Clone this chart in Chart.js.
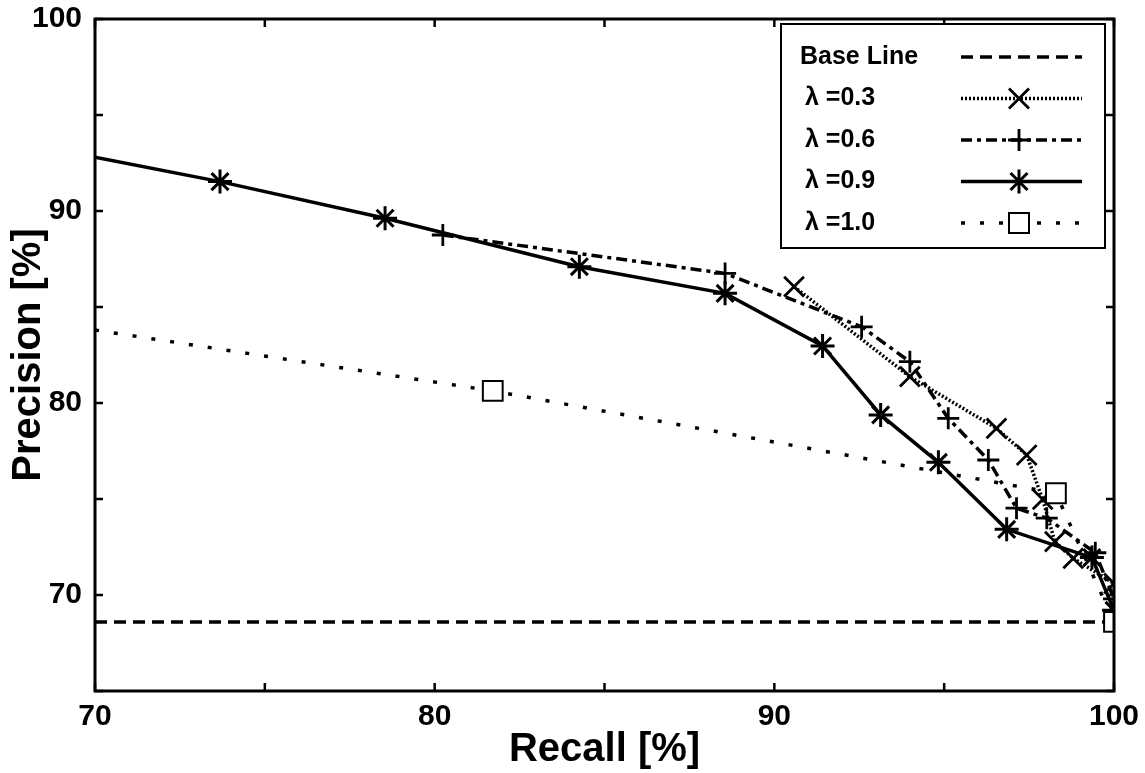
<!DOCTYPE html>
<html>
<head>
<meta charset="utf-8">
<script src="https://cdn.jsdelivr.net/npm/chart.js@4/dist/chart.umd.min.js"></script>
<style>
  body { margin: 0; background: #fff; }
  #wrap { width: 1145px; height: 773px; }
</style>
</head>
<body>
<div id="wrap"><canvas id="prChart" width="1145" height="773"></canvas></div>
<script>
// values (recall %, precision %)
let baseRecall = [70, 100];
let basePrecision = [68.6, 68.6];

let recall03 = [90.58, 93.99, 96.54, 97.43, 97.9, 98.26, 98.8, 100];
let precision03 = [86.06, 81.37, 78.68, 77.29, 74.98, 72.78, 71.91, 70.6];

let recall06 = [80.24, 88.55, 92.57, 93.99, 95.12, 96.3, 97.13, 98.02, 99.45, 100];
let precision06 = [88.75, 86.75, 83.97, 82.15, 79.2, 77.03, 74.52, 74.0, 72.2, 69.8];

let recall09 = [70, 73.68, 78.54, 84.26, 88.55, 91.42, 93.13, 94.83, 96.84, 99.35, 100];
let precision09 = [92.8, 91.53, 89.62, 87.1, 85.71, 82.97, 79.38, 76.91, 73.42, 71.95, 69.2];

let recall10 = [70, 81.71, 98.29, 100];
let precision10 = [83.8, 80.63, 75.3, 68.6];

let seriesNames = ["Base Line", "\u03bb =0.3", "\u03bb =0.6", "\u03bb =0.9", "\u03bb =1.0"];
let xTicks = [70, 80, 90, 100];
let yTicks = [70, 80, 90, 100];

const FONT = "'Liberation Sans', Arial, Helvetica, sans-serif";

function pairUp(xs, ys) {
    return xs.map((x, i) => ({x: x, y: ys[i]}));
}

// first point of a series sits on the left border: no marker there
function hideFirst(r) {
    return ctx => (ctx.dataIndex === 0 ? 0 : r);
}

let datasets = [
    {
        label: seriesNames[0],
        data: pairUp(baseRecall, basePrecision),
        borderColor: "#000",
        borderWidth: 3.5,
        borderDash: [12, 7],
        pointRadius: 0,
        order: 5
    },
    {
        label: seriesNames[1],
        data: pairUp(recall03, precision03),
        borderColor: "#000",
        borderWidth: 3.5,
        borderDash: [2, 2],
        pointStyle: "crossRot",
        pointRadius: 14,
        pointBorderWidth: 2.8,
        pointBorderColor: "#000",
        order: 3
    },
    {
        label: seriesNames[2],
        data: pairUp(recall06, precision06),
        borderColor: "#000",
        borderWidth: 3.5,
        borderDash: [11, 5, 4, 5],
        pointStyle: "cross",
        pointRadius: 11,
        pointBorderWidth: 2.8,
        pointBorderColor: "#000",
        order: 2
    },
    {
        label: seriesNames[3],
        data: pairUp(recall09, precision09),
        borderColor: "#000",
        borderWidth: 3.5,
        pointStyle: "star",
        pointRadius: hideFirst(12),
        pointBorderWidth: 3,
        pointBorderColor: "#000",
        order: 1
    },
    {
        label: seriesNames[4],
        data: pairUp(recall10, precision10),
        borderColor: "#000",
        borderWidth: 3.5,
        borderDash: [4, 15],
        pointStyle: "rect",
        pointRadius: hideFirst(14),
        pointBorderWidth: 2,
        pointBorderColor: "#000",
        pointBackgroundColor: "#fff",
        order: 0
    }
];

// marker for legend samples
function drawMarker(ctx, style, x, y) {
    ctx.save();
    ctx.setLineDash([]);
    ctx.strokeStyle = "#000";
    ctx.lineWidth = 2.8;
    ctx.beginPath();
    if (style === "crossRot") {
        let d = 10;
        ctx.moveTo(x - d, y - d); ctx.lineTo(x + d, y + d);
        ctx.moveTo(x - d, y + d); ctx.lineTo(x + d, y - d);
        ctx.stroke();
    } else if (style === "cross") {
        ctx.moveTo(x - 11, y); ctx.lineTo(x + 11, y);
        ctx.moveTo(x, y - 11); ctx.lineTo(x, y + 11);
        ctx.stroke();
    } else if (style === "star") {
        let d = 8.5;
        ctx.lineWidth = 3;
        ctx.moveTo(x - 12, y); ctx.lineTo(x + 12, y);
        ctx.moveTo(x, y - 12); ctx.lineTo(x, y + 12);
        ctx.moveTo(x - d, y - d); ctx.lineTo(x + d, y + d);
        ctx.moveTo(x - d, y + d); ctx.lineTo(x + d, y - d);
        ctx.stroke();
    } else if (style === "rect") {
        ctx.lineWidth = 2;
        ctx.fillStyle = "#fff";
        ctx.fillRect(x - 10, y - 10, 20, 20);
        ctx.strokeRect(x - 10, y - 10, 20, 20);
    }
    ctx.restore();
}

const framePlugin = {
    id: "frame",
    afterDraw(chart) {
        let ctx = chart.ctx;
        let area = chart.chartArea;
        let xs = chart.scales.x;
        let ys = chart.scales.y;

        ctx.save();
        ctx.strokeStyle = "#000";
        ctx.setLineDash([]);

        // inward ticks on all four sides
        ctx.lineWidth = 2.5;
        ctx.beginPath();
        for (let v = 70; v <= 100; v += 5) {
            let px = xs.getPixelForValue(v);
            ctx.moveTo(px, area.bottom); ctx.lineTo(px, area.bottom - 8);
            ctx.moveTo(px, area.top); ctx.lineTo(px, area.top + 8);
        }
        for (let v = 65; v <= 100; v += 5) {
            let py = ys.getPixelForValue(v);
            ctx.moveTo(area.left, py); ctx.lineTo(area.left + 8, py);
            ctx.moveTo(area.right, py); ctx.lineTo(area.right - 8, py);
        }
        ctx.stroke();

        // plot border
        ctx.lineWidth = 3;
        ctx.strokeRect(area.left, area.top, area.right - area.left, area.bottom - area.top);

        // axis titles
        ctx.fillStyle = "#000";
        ctx.font = "bold 40px " + FONT;
        ctx.textAlign = "center";
        ctx.textBaseline = "middle";
        ctx.fillText("Recall [%]", (area.left + area.right) / 2, 750);
        ctx.save();
        ctx.translate(29, (area.top + area.bottom) / 2);
        ctx.rotate(-Math.PI / 2);
        ctx.fillText("Precision [%]", 0, 0);
        ctx.restore();

        // legend box
        let bx = 781, by = 24, bw = 324, bh = 224;
        ctx.fillStyle = "#fff";
        ctx.fillRect(bx, by, bw, bh);
        ctx.lineWidth = 2;
        ctx.strokeRect(bx, by, bw, bh);

        ctx.font = "bold 25px " + FONT;
        ctx.textAlign = "left";
        ctx.textBaseline = "middle";
        chart.data.datasets.forEach((ds, i) => {
            let rowY = 57 + i * 41.5;
            ctx.fillStyle = "#000";
            ctx.fillText(ds.label, i === 0 ? 800 : 805, rowY);
            ctx.beginPath();
            ctx.lineWidth = ds.borderWidth;
            ctx.setLineDash(ds.borderDash || []);
            ctx.moveTo(961, rowY);
            ctx.lineTo(1082, rowY);
            ctx.stroke();
            if (ds.pointStyle) {
                drawMarker(ctx, ds.pointStyle, 1019, rowY);
            }
        });
        ctx.restore();
    }
};

new Chart(document.getElementById("prChart"), {
    type: "scatter",
    data: { datasets: datasets },
    options: {
        responsive: false,
        animation: false,
        devicePixelRatio: 1,
        showLine: true,
        layout: { padding: { top: 19, right: 31, left: 0, bottom: 0 } },
        elements: { line: { tension: 0, fill: false } },
        plugins: {
            legend: { display: false },
            tooltip: { enabled: false }
        },
        scales: {
            x: {
                type: "linear",
                min: 70,
                max: 100,
                afterFit: s => {
                    s.height = 82;
                    s.paddingLeft = 0;
                    s.paddingRight = 0;
                },
                afterBuildTicks: s => { s.ticks = xTicks.map(v => ({value: v})); },
                grid: { display: false, drawTicks: false },
                border: { display: false },
                ticks: {
                    color: "#000",
                    padding: 8,
                    maxRotation: 0,
                    font: { family: FONT, size: 30, weight: "bold" }
                }
            },
            y: {
                type: "linear",
                min: 65,
                max: 100,
                afterFit: s => {
                    s.width = 95;
                    s.paddingTop = 0;
                    s.paddingBottom = 0;
                },
                afterBuildTicks: s => { s.ticks = yTicks.map(v => ({value: v})); },
                grid: { display: false, drawTicks: false },
                border: { display: false },
                ticks: {
                    color: "#000",
                    padding: 13,
                    font: { family: FONT, size: 30, weight: "bold" }
                }
            }
        }
    },
    plugins: [framePlugin]
});
</script>
</body>
</html>
